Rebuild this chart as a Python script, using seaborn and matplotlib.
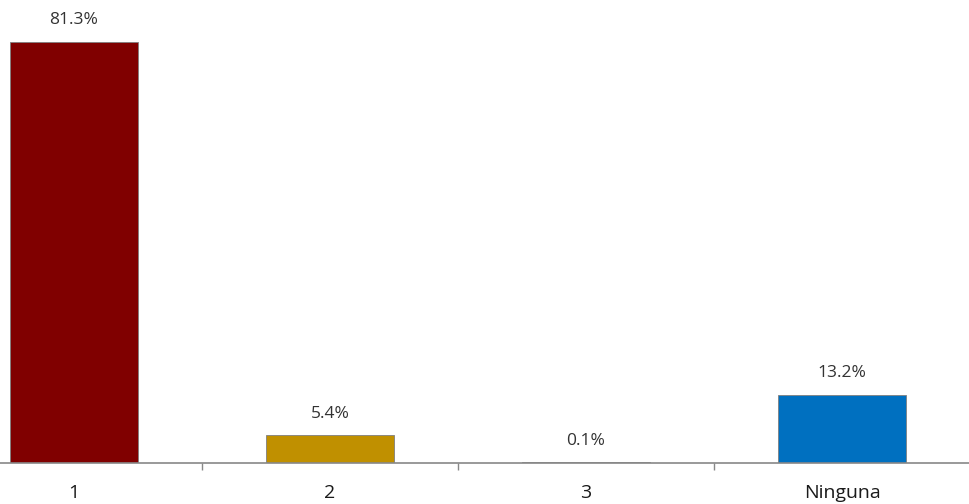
import matplotlib
matplotlib.use("Agg")
import matplotlib.pyplot as plt
import seaborn as sns
import pandas as pd

categories = ["1", "2", "3", "Ninguna"]
values = [81.3, 5.4, 0.1, 13.2]
labels = ["81.3%", "5.4%", "0.1%", "13.2%"]
colors = ["#800000", "#C09000", "#8C8C8C", "#0070C0"]

sns.set_style("white")
plt.rcParams['font.family'] = ['Open Sans', 'DejaVu Sans']

df = pd.DataFrame({"cat": categories, "val": values})

fig = plt.figure(figsize=(9.69, 5.04), dpi=100)
ax = fig.add_axes([0, 41/504, 1, 463/504])
sns.barplot(data=df, x="cat", y="val", hue="cat", palette=colors, width=0.5,
            edgecolor="#7F7F7F", linewidth=0.6, legend=False, ax=ax, saturation=1)

ax.set_xlim(-0.289, 3.496)
ax.set_ylim(0, 89.4)
for s in ["left", "top", "right"]:
    ax.spines[s].set_visible(False)
ax.spines["bottom"].set_color("#888888")
ax.spines["bottom"].set_linewidth(1.2)
ax.set_yticks([])
ax.set_xlabel("")
ax.set_ylabel("")
ax.set_xticks([0.5, 1.5, 2.5], minor=True)
ax.tick_params(axis="x", which="minor", bottom=True, length=5, color="#888888", width=1)
ax.tick_params(axis="x", which="major", bottom=False, length=0, pad=15, labelsize=14, labelcolor="#1a1a1a")

for i, (v, t) in enumerate(zip(values, labels)):
    ax.text(i, v + 2.6, t, ha="center", va="bottom", fontsize=12.5, color="#333333")

fig.savefig("out.png", dpi=100)
